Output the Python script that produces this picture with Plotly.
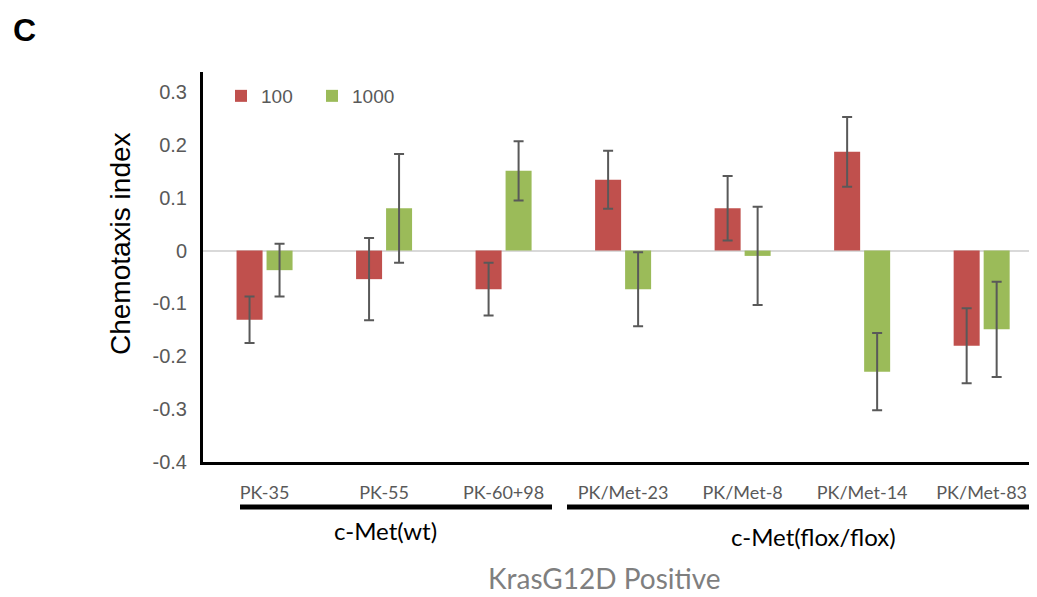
import plotly.graph_objects as go

categories = ["PK-35", "PK-55", "PK-60+98", "PK/Met-23", "PK/Met-8", "PK/Met-14", "PK/Met-83"]
vals_100 = [-0.131, -0.054, -0.073, 0.134, 0.080, 0.187, -0.180]
err_100 = [0.044, 0.078, 0.050, 0.055, 0.061, 0.066, 0.071]
vals_1000 = [-0.037, 0.080, 0.151, -0.073, -0.010, -0.229, -0.149]
err_1000 = [0.050, 0.103, 0.056, 0.070, 0.093, 0.073, 0.090]
y_ticks = [0.3, 0.2, 0.1, 0, -0.1, -0.2, -0.3, -0.4]
y_ticktext = ["0.3", "0.2", "0.1", "0", "-0.1", "-0.2", "-0.3", "-0.4"]

OFF = 8  # page body margin
W, H = 1037 - OFF, 597 - OFF
L, R, T = 203 - OFF, 0, 72 - OFF
PH = 390
B = H - T - PH
PW = W - L - R

def px(x):
    return (x - OFF - L) / PW

def py(y):
    return 1 - (y - OFF - T) / PH

GRAY = "#595959"
err_style = dict(type="data", thickness=2, width=5, color=GRAY)

fig = go.Figure()
fig.add_trace(go.Bar(x=list(range(len(categories))), y=vals_100, name="100",
                     marker=dict(color="#C0504D", line=dict(width=0)),
                     error_y=dict(array=err_100, **err_style)))
fig.add_trace(go.Bar(x=list(range(len(categories))), y=vals_1000, name="1000",
                     marker=dict(color="#9BBB59", line=dict(width=0)),
                     error_y=dict(array=err_1000, **err_style)))

fig.update_layout(
    width=W, height=H,
    margin=dict(l=L, r=R, t=T, b=B, autoexpand=False),
    paper_bgcolor="white", plot_bgcolor="white",
    barmode="group", bargap=0.498, bargroupgap=0.133,
    showlegend=True,
    legend=dict(orientation="h", x=px(221), y=py(77), xanchor="left", yanchor="top",
                font=dict(family="Liberation Sans, Arial", size=19, color=GRAY),
                bgcolor="rgba(0,0,0,0)", itemwidth=30, entrywidth=46, borderwidth=0),
    xaxis=dict(tickmode="array", tickvals=list(range(len(categories))), ticktext=categories,
               range=[-0.515, 6.463], showline=True, linecolor="black", linewidth=3,
               showgrid=False, zeroline=False, ticks="",
               tickfont=dict(family="Lato, Open Sans", size=18, color=GRAY),
               ticklabelstandoff=12),
    yaxis=dict(range=[-0.4, 0.338], tickmode="array", tickvals=y_ticks, ticktext=y_ticktext,
               showline=True, linecolor="black", linewidth=3, showgrid=False,
               zeroline=True, zerolinecolor="#D9D9D9", zerolinewidth=2, ticks="",
               tickfont=dict(family="Liberation Sans, Arial", size=20, color=GRAY),
               ticklabelstandoff=9),
)

# group bracket lines
fig.add_shape(type="line", xref="paper", yref="paper", x0=px(240), x1=px(552), y0=py(507), y1=py(507),
              line=dict(color="black", width=5))
fig.add_shape(type="line", xref="paper", yref="paper", x0=px(567), x1=px(1045), y0=py(507), y1=py(507),
              line=dict(color="black", width=5))

annots = [
    dict(text="<b>C</b>", x=px(24), y=py(30), font=dict(family="Liberation Sans, Arial", size=32, color="black")),
    dict(text="c-Met(wt)", x=px(385), y=py(530), font=dict(family="Lato, Open Sans", size=24, color="black")),
    dict(text="c-Met(flox/flox)", x=px(813), y=py(536), font=dict(family="Lato, Open Sans", size=24, color="black")),
    dict(text="KrasG12D Positive", x=px(604), y=py(578), font=dict(family="Lato, Open Sans", size=28, color="#7F7F7F")),
]
for a in annots:
    fig.add_annotation(text=a["text"], x=a["x"], y=a["y"], xref="paper", yref="paper",
                       showarrow=False, xanchor="center", yanchor="middle", font=a["font"])

fig.add_annotation(text="Chemotaxis index", x=px(120), y=py(244), xref="paper", yref="paper",
                   showarrow=False, textangle=-90, xanchor="center", yanchor="middle",
                   font=dict(family="Liberation Sans, Arial", size=28, color="black"))

fig.write_html("out.html")
